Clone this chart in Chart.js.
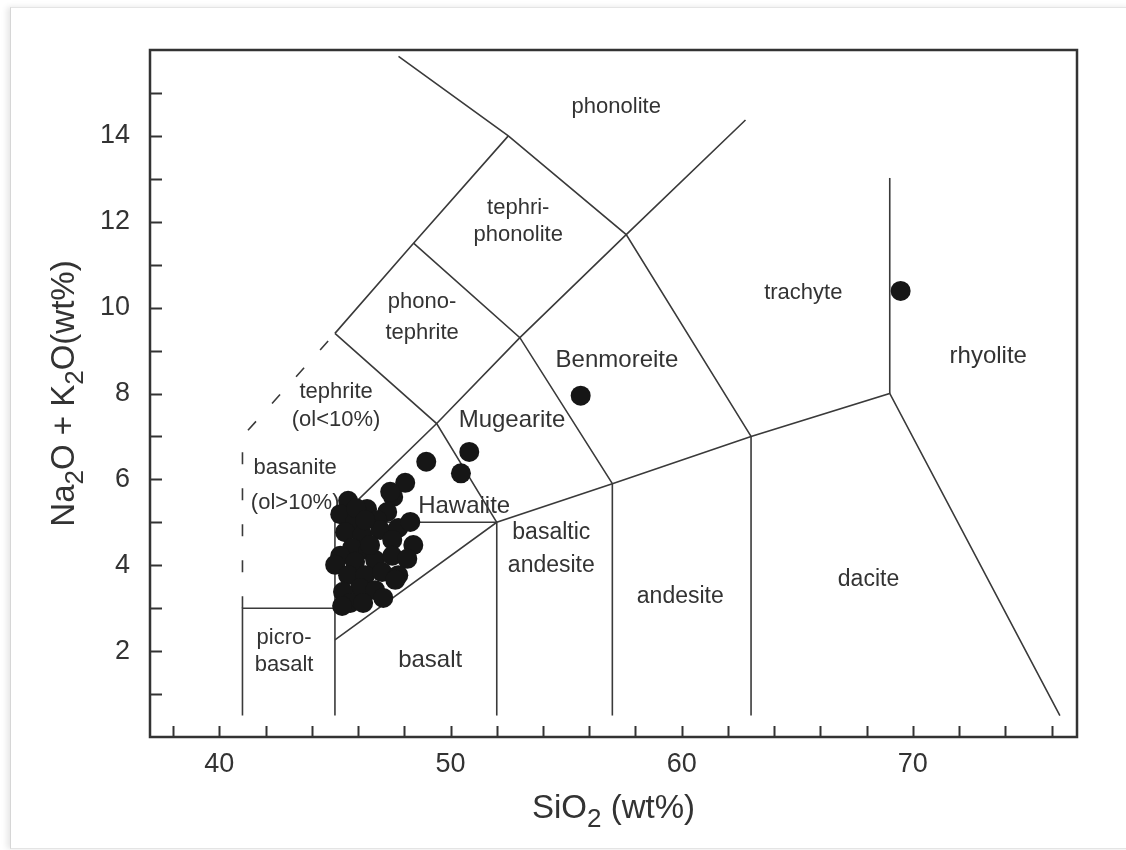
<!DOCTYPE html>
<html>
<head>
<meta charset="utf-8">
<title>TAS diagram</title>
<script src="https://cdn.jsdelivr.net/npm/chart.js@4.4.1/dist/chart.umd.min.js"></script>
<style>
  html, body { margin: 0; padding: 0; background: #fff; }
  #sheet {
    position: absolute; left: 10px; top: 7px; width: 1120px; height: 840px;
    border-top: 1px solid #e4e4e4; border-left: 1px solid #d6d6d6; border-bottom: 1px solid #e4e4e4;
    box-shadow: -3px 0 6px rgba(0,0,0,0.10);
  }
  #wrap { position: absolute; left: 0; top: 0; width: 1126px; height: 850px; }
</style>
</head>
<body>
<div id="sheet"></div>
<div id="wrap"><canvas id="tas" width="1126" height="850"></canvas></div>
<script>
// ---- axis ticks ----
const xTicks = [38, 40, 42, 44, 46, 48, 50, 52, 54, 56, 58, 60, 62, 64, 66, 68, 70, 72, 74, 76];
const xTickLabels = [40, 50, 60, 70];
const yTicks = [1, 2, 3, 4, 5, 6, 7, 8, 9, 10, 11, 12, 13, 14, 15];
const yTickLabels = [2, 4, 6, 8, 10, 12, 14];

// ---- field boundaries (SiO2 wt%, Na2O+K2O wt%) ----
const picrobasaltEdge = [[41, 0.5], [41, 3], [45, 3]];
const basaniteEdge    = [[41, 3], [41, 7], [45, 9.4]];                 // dashed
const line45          = [[45, 0.5], [45, 5], [49.4, 7.3], [53, 9.3], [57.6, 11.7], [62.76, 14.37]];
const basaltTop       = [[45, 5], [52, 5]];
const subalkalineTop  = [[45, 2.26], [52, 5], [57, 5.9], [63, 7], [69, 8], [76.36, 0.5]];
const line52          = [[52, 0.5], [52, 5]];
const line57          = [[57, 0.5], [57, 5.9]];
const line63          = [[63, 0.5], [63, 7]];
const line69          = [[69, 8], [69, 13.02]];
const tephriteEdge    = [[45, 9.4], [49.4, 7.3], [52, 5]];
const phonotephEdge   = [[45, 9.4], [48.4, 11.5], [52.5, 14]];
const phonoliteEdge   = [[47.75, 15.85], [52.5, 14], [57.6, 11.7], [63, 7]];
const benmoreiteEdge  = [[48.4, 11.5], [53, 9.3], [57, 5.9]];

// ---- samples ----
const sampleSiO2 = [
  45.57, 45.23, 46.39, 47.52, 48.04, 47.26, 46.83, 45.87, 45.44, 46.18,
  46.96, 47.74, 48.26, 47.48, 48.39, 45.74, 46.44, 45.23, 45.01, 45.87,
  46.74, 47.48, 48.13, 45.57, 46.31, 47.04, 47.74, 46.09, 46.74, 47.61,
  45.35, 45.66, 46.22, 47.09, 45.31, 46.52, 47.39, 45.92, 46.31,
  48.95, 50.45, 50.81, 55.63, 69.47
];
const sampleAlkali = [
  5.50, 5.19, 5.31, 5.59, 5.92, 5.24, 5.05, 5.01, 4.77, 4.70,
  4.82, 4.87, 5.01, 4.59, 4.47, 4.40, 4.35, 4.22, 4.01, 4.08,
  4.12, 4.22, 4.15, 3.77, 3.77, 3.84, 3.77, 3.47, 3.42, 3.66,
  3.38, 3.12, 3.12, 3.24, 3.05, 4.47, 5.71, 5.33, 5.05,
  6.41, 6.14, 6.64, 7.95, 10.39
];

// ---- field names and their anchor points ----
const fieldNames = ['phonolite', 'tephri-\nphonolite', 'phono-\ntephrite', 'tephrite\n(ol<10%)',
  'basanite\n(ol>10%)', 'picro-\nbasalt', 'basalt', 'Hawaiite', 'Mugearite', 'Benmoreite',
  'basaltic\nandesite', 'andesite', 'dacite', 'trachyte', 'rhyolite'];
const fieldX = [57.17, 52.93, 48.77, 45.05, 43.28, 42.80, 49.12, 50.59, 52.66, 57.20, 54.36, 59.94, 68.08, 65.26, 73.26];
const fieldY = [14.67, 12.00, 9.78, 7.71, 5.86, 1.99, 1.79, 5.36, 7.38, 8.78, 4.38, 3.26, 3.66, 10.34, 8.87];

// label styling
const fieldFontPx = [22, 22, 22, 22, 22, 22, 24, 24, 24, 24, 23, 23, 23, 22, 24];
const fieldLeading = [27, 27, 31, 28, 35, 27, 0, 0, 0, 0, 33, 0, 0, 0, 0];

const FONT = '"Liberation Sans", Arial, Helvetica, sans-serif';
const INK = '#333333';
const LINE_INK = '#3a3a3a';

const toPts = arr => arr.map(p => ({ x: p[0], y: p[1] }));

function edgeSet(arr, dashed) {
  return {
    type: 'scatter',
    data: toPts(arr),
    showLine: true,
    borderColor: LINE_INK,
    borderWidth: 1.6,
    borderDash: dashed ? [12, 24] : [],
    pointRadius: 0,
    fill: false,
    tension: 0,
    order: 2
  };
}

const edges = [picrobasaltEdge, line45, basaltTop, subalkalineTop, line52, line57, line63,
  line69, tephriteEdge, phonotephEdge, phonoliteEdge, benmoreiteEdge].map(e => edgeSet(e, false));
edges.push(edgeSet(basaniteEdge, true));

const samples = {
  type: 'scatter',
  data: sampleSiO2.map((v, i) => ({ x: v, y: sampleAlkali[i] })),
  pointRadius: 10,
  pointBackgroundColor: '#161616',
  pointBorderColor: '#161616',
  pointBorderWidth: 0,
  order: 1
};

// text with subscripts: parts = [[text, isSub], ...]
function richWidth(ctx, parts, size) {
  let w = 0;
  parts.forEach(([t, sub]) => {
    ctx.font = (sub ? Math.round(size * 0.8) : size) + 'px ' + FONT;
    w += ctx.measureText(t).width;
  });
  return w;
}
function drawRich(ctx, parts, cx, baseline, size) {
  let x = cx - richWidth(ctx, parts, size) / 2;
  ctx.textAlign = 'left';
  ctx.textBaseline = 'alphabetic';
  parts.forEach(([t, sub]) => {
    ctx.font = (sub ? Math.round(size * 0.8) : size) + 'px ' + FONT;
    ctx.fillText(t, x, baseline + (sub ? size * 0.28 : 0));
    x += ctx.measureText(t).width;
  });
}

const tasDecor = {
  id: 'tasDecor',
  beforeDatasetsDraw(chart) {
    const { ctx, scales: { x, y } } = chart;
    ctx.save();
    ctx.fillStyle = INK;
    ctx.textAlign = 'center';
    ctx.textBaseline = 'middle';
    fieldNames.forEach((name, i) => {
      const lines = name.split('\n');
      const px = x.getPixelForValue(fieldX[i]);
      const py = y.getPixelForValue(fieldY[i]);
      ctx.font = fieldFontPx[i] + 'px ' + FONT;
      const lead = fieldLeading[i];
      lines.forEach((ln, k) => {
        ctx.fillText(ln, px, py + (k - (lines.length - 1) / 2) * lead);
      });
    });
    ctx.restore();
  },
  afterDraw(chart) {
    const { ctx, chartArea: a, scales: { x, y } } = chart;
    ctx.save();
    // frame
    ctx.strokeStyle = '#333';
    ctx.lineWidth = 2.5;
    ctx.strokeRect(a.left, a.top, a.right - a.left, a.bottom - a.top);
    // inward tick marks
    ctx.lineWidth = 2;
    xTicks.forEach(v => {
      const px = Math.round(x.getPixelForValue(v)) + 0.5;
      ctx.beginPath(); ctx.moveTo(px, a.bottom); ctx.lineTo(px, a.bottom - 11); ctx.stroke();
    });
    yTicks.forEach(v => {
      const py = Math.round(y.getPixelForValue(v)) + 0.5;
      ctx.beginPath(); ctx.moveTo(a.left, py); ctx.lineTo(a.left + 12, py); ctx.stroke();
    });
    // axis titles
    ctx.fillStyle = INK;
    drawRich(ctx, [['SiO', false], ['2', true], [' (wt%)', false]], (a.left + a.right) / 2, 818, 33);
    ctx.translate(74, (a.top + a.bottom) / 2);
    ctx.rotate(-Math.PI / 2);
    drawRich(ctx, [['Na', false], ['2', true], ['O + K', false], ['2', true], ['O(wt%)', false]], 0, 0, 33);
    ctx.restore();
  }
};

new Chart(document.getElementById('tas'), {
  type: 'scatter',
  data: { datasets: [...edges, samples] },
  options: {
    responsive: false,
    animation: false,
    events: [],
    layout: { padding: { top: 50, right: 49, left: 0, bottom: 0 } },
    plugins: { legend: { display: false }, tooltip: { enabled: false } },
    scales: {
      x: {
        type: 'linear', min: 37, max: 77.1,
        afterFit(s) { s.height = 113; },
        afterBuildTicks(s) { s.ticks = xTicks.map(v => ({ value: v })); },
        grid: { display: false },
        border: { display: false },
        ticks: {
          autoSkip: false, maxRotation: 0, padding: 3, color: INK,
          font: { family: FONT, size: 27 },
          callback: v => (xTickLabels.includes(v) ? String(v) : '')
        }
      },
      y: {
        type: 'linear', min: 0, max: 16,
        afterFit(s) { s.width = 150; },
        afterBuildTicks(s) { s.ticks = yTicks.map(v => ({ value: v })); },
        grid: { display: false },
        border: { display: false },
        ticks: {
          autoSkip: false, padding: 12, color: INK,
          font: { family: FONT, size: 27 },
          callback: v => (yTickLabels.includes(v) ? String(v) : '')
        }
      }
    }
  },
  plugins: [tasDecor]
});
</script>
</body>
</html>
